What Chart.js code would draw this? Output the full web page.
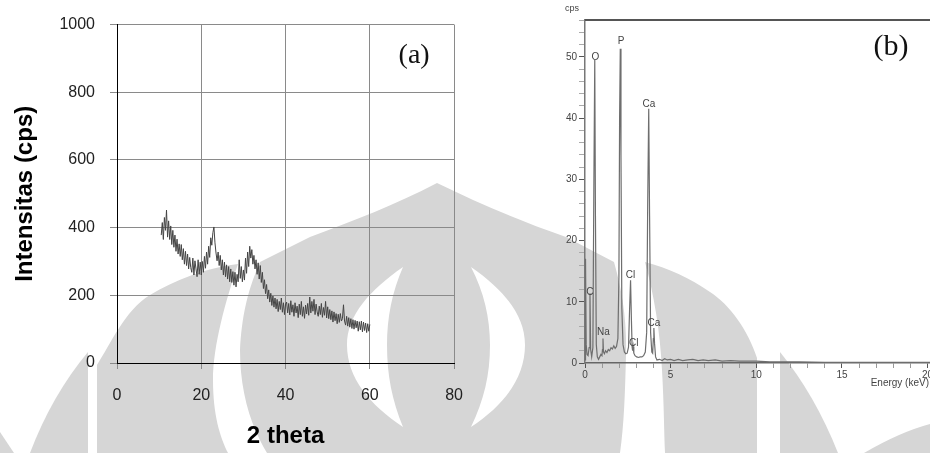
<!DOCTYPE html>
<html>
<head>
<meta charset="utf-8">
<title>XRD dan EDS</title>
<script src="https://cdn.jsdelivr.net/npm/chart.js@4.4.1/dist/chart.umd.min.js"></script>
<style>
    html, body { margin: 0; padding: 0; width: 930px; height: 453px; overflow: hidden; background: #fff; }
    #watermark { position: absolute; left: 0; top: 0; }
    #xrdChart { position: absolute; left: 0; top: 0; }
    #edsChart { position: absolute; left: 540px; top: 0; }
</style>
</head>
<body>

<svg id="watermark" width="930" height="453" viewBox="0 0 930 453">
    <g fill="#d6d6d6">
        <path d="M0 432 L14 453 L0 453 Z"/>
        <path d="M88 352 L88 453 L30 453 Q52 395 88 352 Z"/>
        <path d="M97 453 L97 365 C110 345 125 310 150 295 C175 280 205 268 238 264 C226 300 213 345 213 380 C213 415 220 437 228 453 Z"/>
        <path d="M267 453 C250 425 240 390 240 350 C242 310 250 285 260 262 L310 237 C355 220 395 205 437 183 C478 203 518 220 566 237 L614 262 C622 290 627 320 626 355 C625 395 624 425 620 453 Z"/>
        <path d="M757 453 L757 358 C748 330 730 305 710 292 C690 278 668 268 645 262 C654 295 660 330 662 370 C664 405 664 430 665 453 Z"/>
        <path d="M780 352 L780 453 L838 453 Q815 395 780 352 Z"/>
        <path d="M864 453 Q900 432 930 424 L930 453 Z"/>
    </g>
    <g fill="#ffffff">
        <path d="M403 267 C370 290 347 315 347 345 C347 378 370 405 403 427 C392 400 387 375 387 345 C387 318 392 292 403 267 Z"/>
        <path d="M471 267 C504 290 525 315 525 345 C525 378 504 405 471 427 C484 400 490 375 490 345 C490 318 484 292 471 267 Z"/>
    </g>
</svg>

<canvas id="xrdChart" width="480" height="453"></canvas>
<canvas id="edsChart" width="440" height="453"></canvas>

<script>
// ============================================
// Data (a) - XRD, 2 theta from 10.5 to 60 every 0.25
// ============================================
const xrdStart = 10.5;
const xrdStep = 0.25;
const xrdIntensity = [
    378, 415, 365, 430, 392, 452, 372, 420, 365,
    405, 350, 392, 342, 378, 330, 366, 322, 352, 315,
    350, 305, 338, 292, 330, 288, 322, 278, 312, 282,
    268, 310, 260, 302, 278, 255, 305, 262, 298, 260,
    300, 268, 315, 280, 328, 292, 345, 312, 370, 348,
    385, 402, 355, 325, 302, 328, 288, 318, 275, 305,
    260, 298, 255, 290, 248, 285, 240, 278, 238, 270,
    230, 268, 225, 262, 240, 305, 250, 285, 240, 275,
    245, 310, 265, 328, 285, 345, 310, 335, 292, 318,
    278, 305, 262, 296, 248, 288, 238, 268, 220, 246,
    205, 232, 190, 216, 180, 206, 170, 198, 165, 192,
    160, 188, 152, 182, 158, 192, 150, 178, 143, 174,
    180, 148, 176, 142, 184, 150, 172, 138, 178, 148,
    168, 134, 174, 143, 182, 138, 166, 132, 171, 145,
    176, 141, 195, 148, 182, 153, 188, 143, 174, 151,
    138, 168, 143, 176, 135, 164, 141, 182, 133, 166,
    131, 158, 128, 154, 121, 151, 125, 146, 116, 144,
    120, 146, 124, 131, 172, 124, 112, 138, 109, 134,
    106, 131, 102, 128, 100, 126, 104, 124, 94, 122,
    98, 124, 92, 121, 96, 118, 90, 116, 94, 114
];
const xrdXTicks = [0, 20, 40, 60, 80];
const xrdYTicks = [0, 200, 400, 600, 800, 1000];

// ============================================
// Data (b) - EDS spectrum
// ============================================
const edsEnergy = [
    0, 0.03, 0.07, 0.12, 0.18, 0.24, 0.29, 0.33, 0.39, 0.46,
    0.52, 0.57, 0.61, 0.66, 0.72, 0.79, 0.86, 0.93, 0.99, 1.02,
    1.05, 1.08, 1.13, 1.2, 1.28, 1.36, 1.44, 1.52, 1.6, 1.68,
    1.76, 1.84, 1.92, 1.98, 2.02, 2.06, 2.1, 2.15, 2.22, 2.3,
    2.38, 2.46, 2.54, 2.6, 2.66, 2.71, 2.75, 2.78, 2.81, 2.85,
    2.92, 3.02, 3.12, 3.22, 3.32, 3.42, 3.52, 3.6, 3.66, 3.72,
    3.77, 3.83, 3.9, 3.95, 3.99, 4.02, 4.06, 4.12, 4.2, 4.35,
    4.5, 4.65, 4.8, 5.0, 5.2, 5.45, 5.7, 6.0, 6.3, 6.6,
    6.9, 7.2, 7.6, 8.0, 8.5, 9.0, 9.5, 10.0, 10.8, 11.6,
    12.5, 14, 16, 18, 20, 23
];
const edsCps = [
    0.5, 17, 3, 1.4, 1.2, 2.5, 11.4, 2.2, 1.0, 2.5,
    30, 49.5, 24, 3, 1.0, 0.6, 1.0, 1.4, 1.2, 2.2,
    4.0, 1.8, 1.5, 2.0, 1.7, 2.2, 2.0, 2.5, 2.3, 2.8,
    2.4, 2.7, 4, 14, 40, 51.3, 34, 9, 3, 1.8,
    1.5, 1.6, 2.6, 8.5, 13.5, 7, 2.6, 2.0, 2.7, 1.6,
    1.2, 1.0, 0.9, 1.0, 1.0, 1.2, 1.8, 5, 26, 41.5,
    24, 5, 1.8, 1.6, 4, 5.7, 3.2, 1.0, 0.5, 0.6,
    0.4, 0.7, 0.5, 0.6, 0.4, 0.6, 0.4, 0.5, 0.6, 0.4,
    0.5, 0.4, 0.5, 0.3, 0.4, 0.3, 0.3, 0.3, 0.2, 0.2,
    0.2, 0.1, 0.1, 0.1, 0.1, 0.1
];
const peakNames = ['C', 'O', 'Na', 'P', 'Cl', 'Cl', 'Ca', 'Ca'];
const peakEnergy = [0.29, 0.6, 1.07, 2.1, 2.66, 2.85, 3.73, 4.02];
const peakLabelCps = [11.6, 49.9, 5.1, 52.5, 14.4, 3.3, 42.3, 6.5];

Chart.defaults.font.family = "'Liberation Sans', Arial, sans-serif";
Chart.defaults.animation = false;

// ============================================
// Chart (a)
// ============================================
const panelLabelA = {
    id: 'panelLabelA',
    afterDraw(chart) {
        const { ctx, chartArea } = chart;
        ctx.save();
        ctx.font = "28px 'Liberation Serif', 'Times New Roman', serif";
        ctx.fillStyle = '#111';
        ctx.textAlign = 'center';
        ctx.textBaseline = 'middle';
        ctx.fillText('(a)', chartArea.right - 40, chartArea.top + 31);
        ctx.restore();
    }
};

function drawXrd() {
    const points = xrdIntensity.map((v, i) => ({ x: xrdStart + i * xrdStep, y: v }));
    new Chart(document.getElementById('xrdChart'), {
        type: 'line',
        data: {
            datasets: [{
                data: points,
                borderColor: '#444',
                borderWidth: 1,
                pointRadius: 0,
                tension: 0
            }]
        },
        options: {
            responsive: false,
            layout: { padding: { top: 22, right: 25, left: 0, bottom: 0 } },
            plugins: { legend: { display: false }, tooltip: { enabled: false } },
            scales: {
                x: {
                    type: 'linear',
                    min: xrdXTicks[0],
                    max: xrdXTicks[xrdXTicks.length - 1],
                    afterBuildTicks: s => { s.ticks = xrdXTicks.map(v => ({ value: v })); },
                    afterFit: s => { s.height = 90; },
                    ticks: { font: { size: 16 }, color: '#222', padding: 17, maxRotation: 0, callback: v => String(v) },
                    grid: { color: '#8a8a8a', lineWidth: 1, tickLength: 6 },
                    border: { color: '#000', width: 1 },
                    title: {
                        display: true, text: '2 theta', color: '#000',
                        font: { size: 24, weight: 'bold' }, padding: { top: 0, bottom: 2 }
                    }
                },
                y: {
                    min: xrdYTicks[0],
                    max: xrdYTicks[xrdYTicks.length - 1],
                    afterBuildTicks: s => { s.ticks = xrdYTicks.map(v => ({ value: v })); },
                    afterFit: s => { s.width = 117; },
                    ticks: { font: { size: 16 }, color: '#222', padding: 15, callback: v => String(v) },
                    grid: { color: '#8a8a8a', lineWidth: 1, tickLength: 7 },
                    border: { color: '#000', width: 1 },
                    title: {
                        display: true, text: 'Intensitas (cps)', color: '#000',
                        font: { size: 24, weight: 'bold' }, padding: { top: 11, bottom: 0 }
                    }
                }
            }
        },
        plugins: [panelLabelA]
    });
}

// ============================================
// Chart (b)
// ============================================
const edsDecor = {
    id: 'edsDecor',
    afterDraw(chart) {
        const { ctx, chartArea, scales } = chart;
        ctx.save();
        // top frame
        ctx.strokeStyle = '#555';
        ctx.lineWidth = 2;
        ctx.beginPath();
        ctx.moveTo(chartArea.left, chartArea.top);
        ctx.lineTo(chartArea.right, chartArea.top);
        ctx.stroke();

        ctx.fillStyle = '#444';
        ctx.textAlign = 'center';
        ctx.textBaseline = 'middle';
        ctx.font = "9px 'Liberation Sans', Arial, sans-serif";
        ctx.fillText('cps', chartArea.left - 13, 9);

        ctx.font = "10px 'Liberation Sans', Arial, sans-serif";
        ctx.textAlign = 'right';
        ctx.fillText('Energy (keV)', 389, 383);

        // element labels
        ctx.textAlign = 'center';
        peakNames.forEach((name, i) => {
            ctx.fillText(name, scales.x.getPixelForValue(peakEnergy[i]), scales.y.getPixelForValue(peakLabelCps[i]));
        });

        ctx.font = "30px 'Liberation Serif', 'Times New Roman', serif";
        ctx.fillStyle = '#111';
        ctx.fillText('(b)', 351, 47);
        ctx.restore();
    }
};

function drawEds() {
    const points = edsEnergy.map((e, i) => ({ x: e, y: edsCps[i] }));
    new Chart(document.getElementById('edsChart'), {
        type: 'line',
        data: {
            datasets: [{
                data: points,
                borderColor: '#6e6e6e',
                borderWidth: 1.2,
                pointRadius: 0,
                tension: 0
            }]
        },
        options: {
            responsive: false,
            layout: { padding: { top: 20, right: 0, left: 0, bottom: 0 } },
            plugins: { legend: { display: false }, tooltip: { enabled: false } },
            scales: {
                x: {
                    type: 'linear',
                    min: 0,
                    max: 23,
                    afterFit: s => { s.height = 90; },
                    ticks: {
                        stepSize: 1, autoSkip: false, maxRotation: 0,
                        font: { size: 10 }, color: '#444', padding: 1,
                        callback: v => (v % 5 === 0 ? v : '')
                    },
                    grid: {
                        drawOnChartArea: false, tickLength: 5,
                        tickColor: c => (c.tick && c.tick.value % 5 === 0 ? '#555' : '#999')
                    },
                    border: { color: '#666', width: 1.5 }
                },
                y: {
                    min: 0,
                    max: 56,
                    afterFit: s => { s.width = 45; },
                    ticks: {
                        stepSize: 2, autoSkip: false,
                        font: { size: 10 }, color: '#444', padding: 2,
                        callback: v => (v % 10 === 0 ? v : '')
                    },
                    grid: {
                        drawOnChartArea: false, tickLength: 6,
                        tickColor: c => (c.tick && c.tick.value % 10 === 0 ? '#555' : '#aaa')
                    },
                    border: { color: '#777', width: 1.5 }
                }
            }
        },
        plugins: [edsDecor]
    });
}

drawXrd();
drawEds();
</script>
</body>
</html>
